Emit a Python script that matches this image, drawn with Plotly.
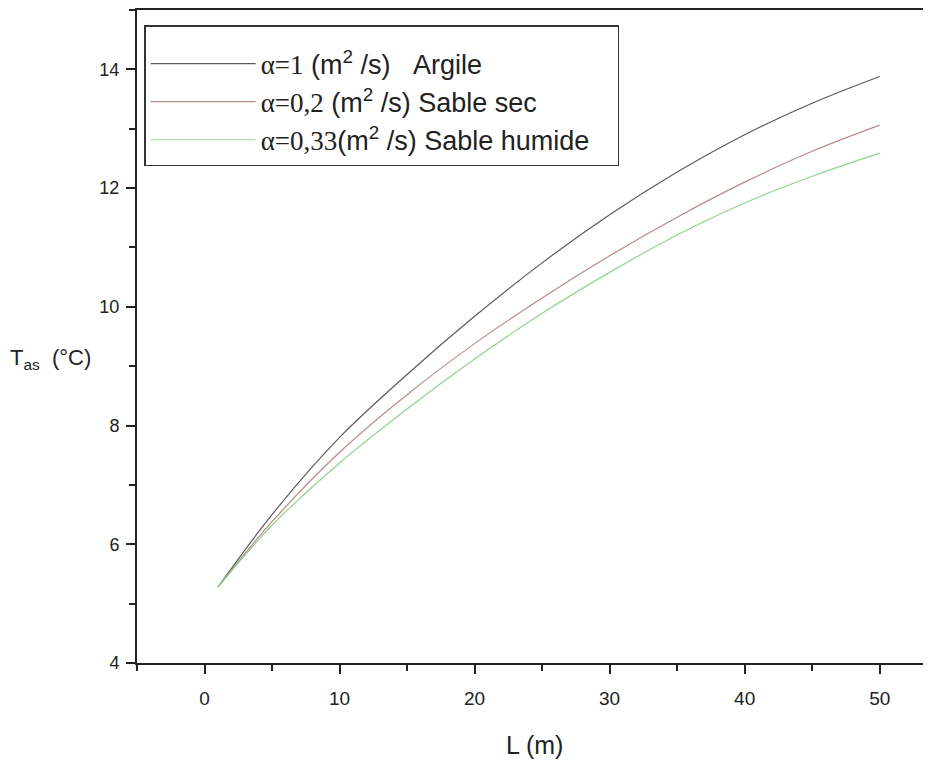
import plotly.graph_objects as go

L_m = [1, 5, 10, 15, 20, 25, 30, 35, 40, 45, 50]
argile = [5.28, 6.50, 7.80, 8.86, 9.84, 10.74, 11.55, 12.27, 12.90, 13.43, 13.88]
sable_sec = [5.28, 6.38, 7.55, 8.52, 9.38, 10.15, 10.86, 11.51, 12.10, 12.62, 13.06]
sable_humide = [5.28, 6.32, 7.37, 8.28, 9.12, 9.89, 10.58, 11.21, 11.75, 12.20, 12.59]

names = [
    '<span style="font-family:Liberation Serif">α=1</span> (m<sup>2</sup> /s)   Argile',
    '<span style="font-family:Liberation Serif">α=0,2</span> (m<sup>2</sup> /s) Sable sec',
    '<span style="font-family:Liberation Serif">α=0,33</span>(m<sup>2</sup> /s) Sable humide\u00a0\u00a0\u00a0',
]
colors = ["#5a5a5a", "#b98a8a", "#8fd48f"]
series = [argile, sable_sec, sable_humide]

fig = go.Figure()
for nm, col, ys in zip(names, colors, series):
    fig.add_trace(go.Scatter(x=L_m, y=ys, mode="lines", name=nm,
                             line=dict(color=col, width=1.2, shape="spline", smoothing=1.0)))

axis_font = dict(family="Liberation Sans Narrow, Liberation Sans, Arial", size=19, color="#222")
fig.update_layout(
    width=923, height=752,
    margin=dict(l=129, r=0, t=0, b=97),
    plot_bgcolor="white", paper_bgcolor="white",
    showlegend=True,
    legend=dict(x=0.009, y=0.977, xanchor="left", yanchor="top",
                bordercolor="#333", borderwidth=1.5, bgcolor="white",
                font=dict(family="Liberation Sans, Arial", size=27, color="#222"),
                title=dict(text=" ", font=dict(size=10)),
                itemwidth=105, tracegroupgap=0),
    xaxis=dict(range=[-5, 53.8], tickvals=[0, 10, 20, 30, 40, 50],
               showgrid=False, zeroline=False, showline=True, linecolor="#222",
               linewidth=2, mirror=True, ticks="outside", ticklen=9, tickwidth=1.5,
               tickcolor="#222", tickfont=axis_font, ticklabelstandoff=8,
               minor=dict(dtick=5, tick0=0, ticks="outside", ticklen=6, tickwidth=1.5, tickcolor="#222")),
    yaxis=dict(range=[4, 15], tickvals=[4, 6, 8, 10, 12, 14],
               showgrid=False, zeroline=False, showline=True, linecolor="#222",
               linewidth=2, mirror=False, ticks="outside", ticklen=9, tickwidth=1.5,
               tickcolor="#222", tickfont=dict(family="Liberation Sans, Arial", size=18, color="#222"),
               ticklabelstandoff=3,
               minor=dict(dtick=1, tick0=0, ticks="outside", ticklen=6, tickwidth=1.5, tickcolor="#222")),
)

fig.add_annotation(text="L (m)", xref="paper", yref="paper", x=0.5, y=-0.125,
                   xanchor="center", yanchor="middle", showarrow=False,
                   font=dict(family="Liberation Sans Narrow, Liberation Sans, Arial", size=25, color="#222"))
fig.add_annotation(text="T<sub>as</sub>  (°C)", xref="paper", yref="paper", x=-0.162, y=0.466,
                   xanchor="left", yanchor="middle", showarrow=False,
                   font=dict(family="Liberation Sans, Arial", size=22, color="#222"))

fig.write_html("out.html")
